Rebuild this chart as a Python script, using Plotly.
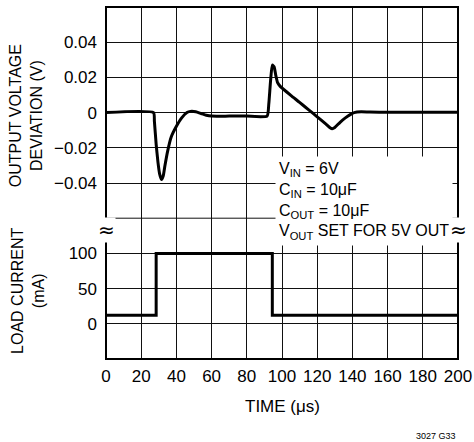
import plotly.graph_objects as go

# output voltage deviation (V) against time (us)
t_vout = [0, 27, 27.5, 28.5, 29.5, 30.5, 31.5, 32.5, 33.5, 35, 37, 40, 43, 46, 48, 51, 54, 57, 60,
          70, 80, 91.5, 92.5, 93.5, 94.5, 95.5, 96.5, 97.5, 99, 105, 110, 115, 120, 125, 127.5,
          128.5, 130, 133, 136, 139, 141, 145, 150, 160, 200]
v_dev = [0, 0, -0.005, -0.018, -0.028, -0.035, -0.038, -0.036, -0.030, -0.022, -0.014, -0.0078,
         -0.003, 0.0, 0.0007, 0.0005, -0.0005, -0.0015, -0.002,
         -0.002, -0.002, -0.002, 0.005, 0.018, 0.027, 0.026, 0.021, 0.017, 0.0149, 0.0098, 0.0058,
         0.0017, -0.0024, -0.0066, -0.0088,
         -0.0092, -0.0085, -0.0055, -0.003, -0.001, 0.0, 0.0005, 0.0003, 0.0002, 0.0002]

# load current step (mA)
t_load = [0, 28.5, 94.5, 200]
i_load = [12, 100, 12, 12]

x_ticks = [0, 20, 40, 60, 80, 100, 120, 140, 160, 180, 200]
v_ticks = [-0.04, -0.02, 0, 0.02, 0.04]
v_labels = ['\u22120.04', '\u22120.02', '0', '0.02', '0.04']
i_ticks = [0, 50, 100]
i_labels = ['0', '50', '100']

FONT = 'Liberation Sans, Arial, sans-serif'

fig = go.Figure()
fig.add_trace(go.Scatter(x=t_vout, y=v_dev, mode='lines', xaxis='x', yaxis='y',
                         line=dict(color='black', width=3, shape='spline', smoothing=0.5)))
fig.add_trace(go.Scatter(x=t_load, y=i_load, mode='lines', xaxis='x2', yaxis='y2',
                         line=dict(color='black', width=3, shape='hv')))

grid = dict(showgrid=True, gridcolor='#111', gridwidth=1, zeroline=False, showline=False,
            automargin=False)

fig.update_layout(
    width=474, height=442,
    margin=dict(l=106, r=16, t=7, b=83),
    paper_bgcolor='white', plot_bgcolor='white',
    showlegend=False,
    font=dict(family=FONT, size=17, color='black'),
    xaxis=dict(anchor='y', range=[0, 200], tickvals=x_ticks, showticklabels=False, ticks='', **grid),
    xaxis2=dict(anchor='y2', matches='x', range=[0, 200], tickvals=x_ticks, ticks='',
                ticklabelstandoff=5, **grid),
    yaxis=dict(domain=[0.4, 1], range=[-0.06, 0.06], tickvals=v_ticks, ticktext=v_labels,
               ticks='', ticklabelstandoff=8, **grid),
    yaxis2=dict(domain=[0, 0.4], range=[-50, 150], tickvals=i_ticks, ticktext=i_labels,
                ticks='', ticklabelstandoff=8, **grid),
)

# frame and the axis break line
fig.add_shape(type='rect', xref='paper', yref='paper', x0=0, x1=1, y0=0, y1=1,
              line=dict(color='black', width=2), layer='above')
fig.add_shape(type='line', xref='paper', yref='paper', x0=0, x1=1, y0=0.4, y1=0.4,
              line=dict(color='#111', width=1), layer='above')

fig.add_annotation(xref='paper', yref='paper', x=-0.227, y=0.69, textangle=-90,
                   text='OUTPUT VOLTAGE<br>DEVIATION (V)', showarrow=False,
                   font=dict(size=16), xanchor='center', yanchor='middle')
fig.add_annotation(xref='paper', yref='paper', x=-0.222, y=0.193, textangle=-90,
                   text='LOAD CURRENT<br>(mA)', showarrow=False,
                   font=dict(size=16), xanchor='center', yanchor='middle')
fig.add_annotation(xref='paper', yref='paper', x=0.5, y=-0.136, text='TIME (\u03bcs)',
                   showarrow=False, font=dict(size=17), xanchor='center', yanchor='middle')
fig.add_annotation(xref='paper', yref='paper', x=1.0, y=-0.22, text='3027 G33',
                   showarrow=False, font=dict(size=9), xanchor='right', yanchor='middle')

fig.add_annotation(xref='paper', yref='paper', x=0.48, y=0.45, xanchor='left', yanchor='middle',
                   align='left', showarrow=False, bgcolor='white', borderpad=3,
                   font=dict(size=16),
                   text='V<sub>IN</sub> = 6V<br>C<sub>IN</sub> = 10\u03bcF<br>'
                        'C<sub>OUT</sub> = 10\u03bcF<br>V<sub>OUT</sub> SET FOR 5V OUT')

# break marks on both sides
for xb in (0.0, 1.0):
    fig.add_annotation(xref='paper', yref='paper', x=xb, y=0.366, text='\u2248',
                       showarrow=False, bgcolor='white', borderpad=0,
                       font=dict(size=20, family='DejaVu Sans'), xanchor='center', yanchor='middle')

# page has a default 8px body margin; drop it so the figure sits at the corner
fig.write_html('out.html', config={'displayModeBar': False},
               post_script="document.body.style.margin='0';")
